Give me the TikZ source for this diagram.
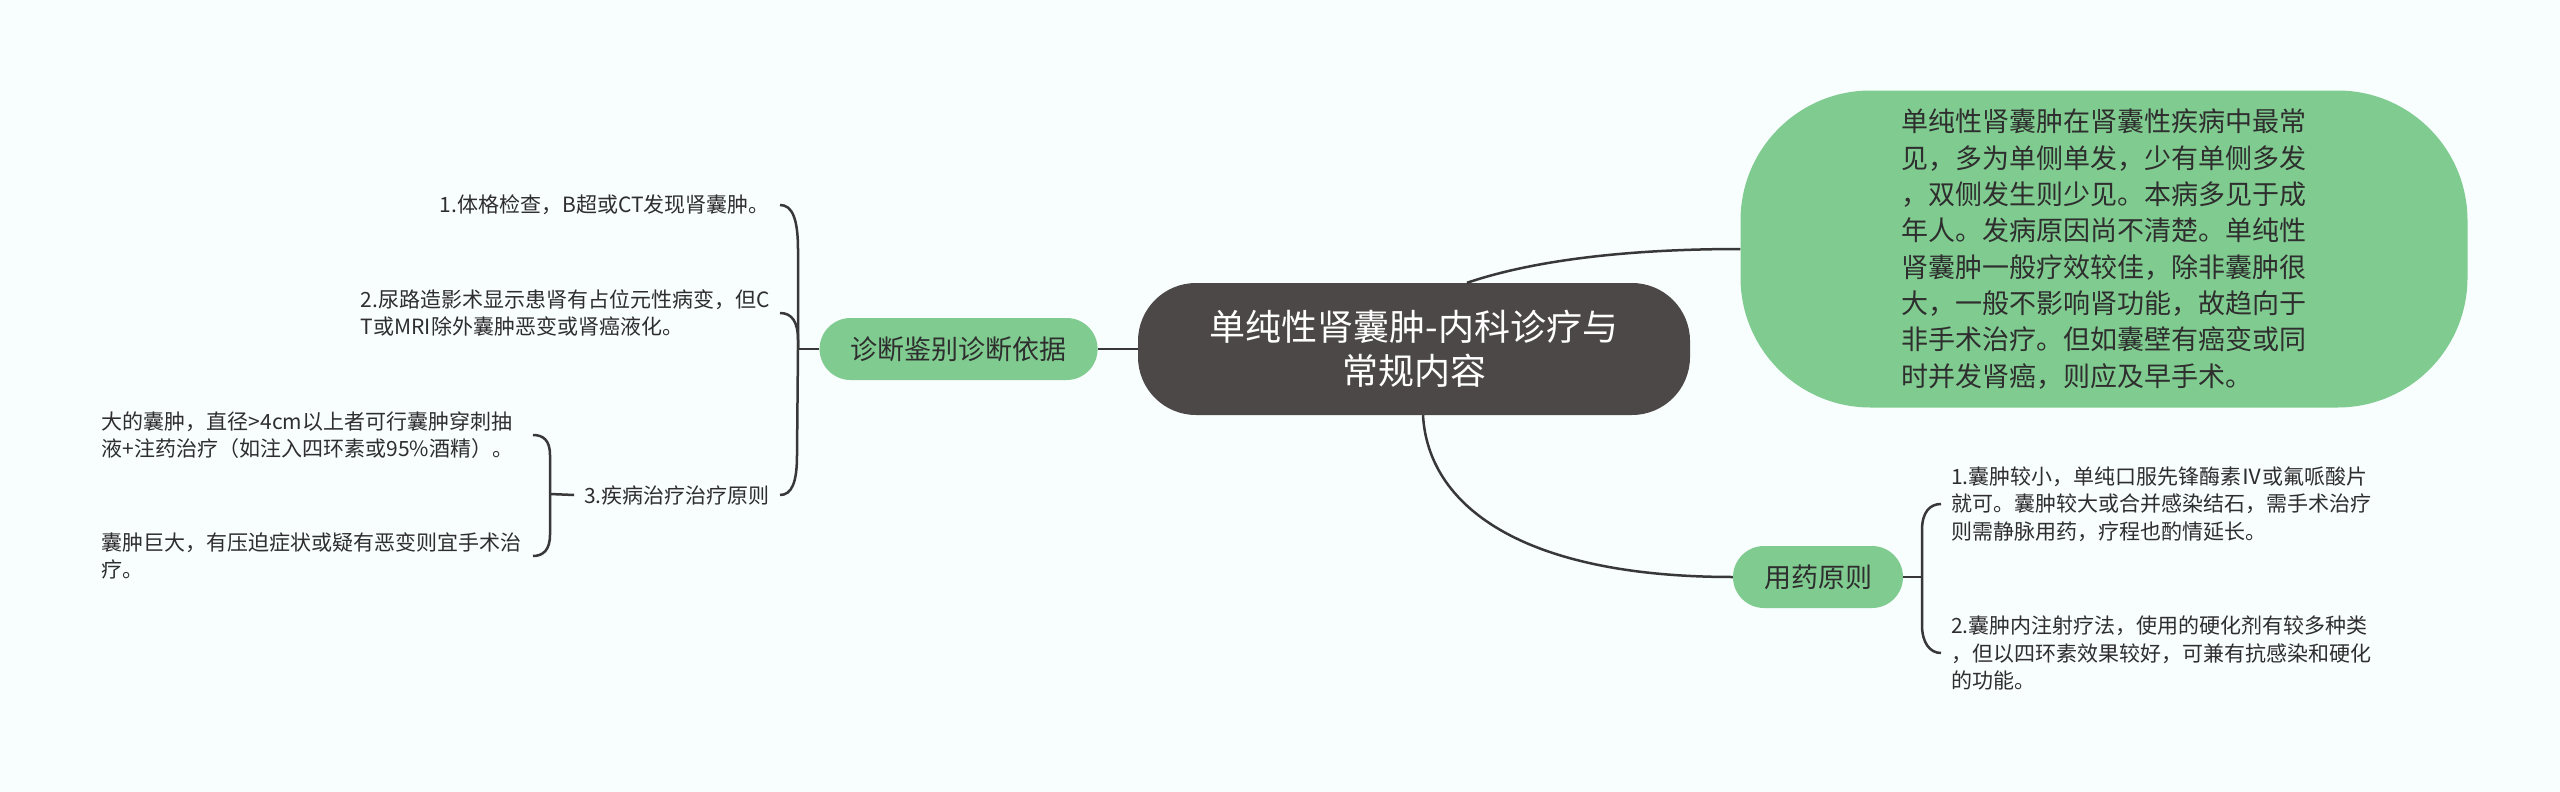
\documentclass[tikz,border=0pt]{standalone}
\usepackage{fontspec}
\setmainfont{Noto Sans CJK SC}
\usepackage{tikz}
\usetikzlibrary{positioning}
\definecolor{bgcol}{HTML}{F8FDFD}
\definecolor{darkbox}{HTML}{4D4848}
\definecolor{leafgreen}{HTML}{80CC90}
\definecolor{linegrey}{HTML}{383838}
\definecolor{inkgrey}{HTML}{2E2E2E}

\begin{document}
\begin{tikzpicture}[%
x=1pt,y=-1pt,%
link/.style={draw=linegrey,line width=2.5pt},%
maintopic/.style={fill=darkbox,text=white,rounded corners=58pt,minimum width=552pt,minimum height=132pt,align=center,font=\fontsize{36}{44}\selectfont},%
topic/.style={fill=leafgreen,text=inkgrey,rounded corners=31pt,minimum height=62pt,font=\fontsize{27}{36.3}\selectfont},%
leaf/.style={text=inkgrey,align=left,inner sep=10pt,font=\fontsize{21}{27.5}\selectfont},%
  ]
    \fill[bgcol] (0,0) rectangle (2560,792);

    \node[maintopic] (main) at (1414,349) {单纯性肾囊肿-内科诊疗与\\常规内容};

    \node[topic, minimum width=278pt] (diag) [left=40pt of main] {诊断鉴别诊断依据};

    \node[topic, minimum width=727pt, minimum height=317pt, rounded corners=130pt, align=left] (intro) at (2104,249)
      {单纯性肾囊肿在肾囊性疾病中最常\\见，多为单侧单发，少有单侧多发\\，双侧发生则少见。本病多见于成\\年人。发病原因尚不清楚。单纯性\\肾囊肿一般疗效较佳，除非囊肿很\\大，一般不影响肾功能，故趋向于\\非手术治疗。但如囊壁有癌变或同\\时并发肾癌，则应及早手术。};

    \node[topic, minimum width=170pt] (yao) at (1818,577) {用药原则};

    % left side
    \node[leaf, anchor=east] (d1) at (780,205) {1.体格检查，B超或CT发现肾囊肿。};
    \node[leaf, anchor=east] (d2) at (780,313) {2.尿路造影术显示患肾有占位元性病变，但C\\T或MRI除外囊肿恶变或肾癌液化。};
    \node[leaf, anchor=east] (d3) at (780,495) {3.疾病治疗治疗原则};
    \node[leaf, anchor=east, text width=421pt] (d3a) at (533,435) {大的囊肿，直径>4cm以上者可行囊肿穿刺抽\\液+注药治疗（如注入四环素或95\%酒精）。};
    \node[leaf, anchor=east, text width=421pt] (d3b) at (533,556) {囊肿巨大，有压迫症状或疑有恶变则宜手术治\\疗。};

    % right side
    \node[leaf, anchor=west] (r1) at (1941,504) {1.囊肿较小，单纯口服先锋酶素Ⅳ或氟哌酸片\\就可。囊肿较大或合并感染结石，需手术治疗\\则需静脉用药，疗程也酌情延长。};
    \node[leaf, anchor=west] (r2) at (1941,653) {2.囊肿内注射疗法，使用的硬化剂有较多种类\\，但以四环素效果较好，可兼有抗感染和硬化\\的功能。};

    \coordinate (lj) at (798,349);
    \coordinate (sj) at (550,494);
    \coordinate (rj) at (1922,577);

        \draw[link] (main.west) -- (diag.east);
        \draw[link] ([xshift=53pt]main.north) .. controls (1540,258) and (1640,249) .. (intro.west);
        \draw[link] ([xshift=9pt]main.south) .. controls (1428,505) and (1520,577) .. (yao.west);

        \draw[link] (diag.west) -- (lj);
        \draw[link] (lj) -- (798,250) .. controls (798,218) and (792,205) .. (d1.east);
        \draw[link] (lj) -- (798,340) .. controls (798,322) and (792,313) .. (d2.east);
        \draw[link] (lj) -- (797,455) .. controls (797,482) and (792,495) .. (d3.east);

        \draw[link] (d3.west) -- (sj);
        \draw[link] (sj) -- (550,455) .. controls (550,440) and (543,435) .. (d3a.east);
        \draw[link] (sj) -- (550,535) .. controls (550,550) and (543,556) .. (d3b.east);

        \draw[link] (yao.east) -- (rj);
        \draw[link] (rj) -- (1922,530) .. controls (1922,512) and (1930,504) .. (r1.west);
        \draw[link] (rj) -- (1922,625) .. controls (1922,643) and (1930,653) .. (r2.west);
  \end{tikzpicture}
\end{document}
